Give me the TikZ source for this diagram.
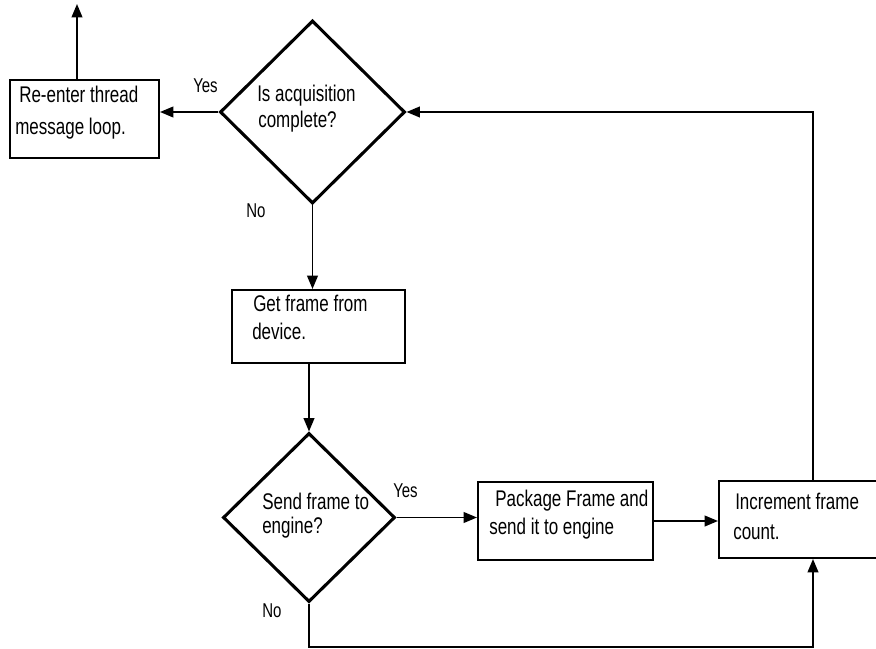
\documentclass[tikz,border=0pt]{standalone}
\usepackage{fontspec}
\setmainfont{Liberation Sans}[FakeStretch=0.75]
\usetikzlibrary{shapes.geometric,arrows.meta}
\begin{document}
\begin{tikzpicture}[x=0.75pt,y=-0.75pt,
 box/.style={draw, line width=1.5pt, rectangle, inner sep=0pt},
 dia/.style={draw, line width=2.3pt, diamond, inner sep=0pt},
 conn/.style={line width=1.4pt, -{Triangle[length=10pt,width=8pt]}},
 txt/.style={anchor=base west, inner sep=0pt, font=\fontsize{17}{20}\selectfont},
 lbl/.style={anchor=base west, inner sep=0pt, font=\fontsize{15}{18}\selectfont}]
\useasboundingbox (0,0) rectangle (876,649);
\fill[white] (0,0) rectangle (876,649);

% shapes
\node[box, minimum width=111.75pt, minimum height=58.5pt] (renter) at (84.5,119) {};
\node[box, minimum width=129.75pt, minimum height=54.75pt] (getf) at (318.5,326.5) {};
\node[box, minimum width=131.25pt, minimum height=58.5pt] (pkg) at (565.5,521) {};
\node[box, minimum width=120.75pt, minimum height=57.75pt] (inc) at (799.5,519.5) {};
\node[dia, minimum width=138.75pt, minimum height=137.25pt] (dia1) at (312.5,112) {};
\node[dia, minimum width=129pt, minimum height=126.75pt] (dia2) at (309,517.5) {};

% texts
\node[txt] (t1a) at (19,103) {Re-enter thread};
\node[txt] (t1b) at (15,135) {message loop.};
\node[txt] (t2a) at (257,102) {Is acquisition};
\node[txt] (t2b) at (258,128) {complete?};
\node[txt] (t3a) at (253,312) {Get frame from};
\node[txt] (t3b) at (252,340) {device.};
\node[txt] (t4a) at (262,509) {Send frame to};
\node[txt] (t4b) at (262,533) {engine?};
\node[txt] (t5a) at (495,507) {Package Frame and};
\node[txt] (t5b) at (489,534) {send it to engine};
\node[txt] (t6a) at (735,509) {Increment frame};
\node[txt] (t6b) at (733,539) {count.};

\node[lbl] (yes1) at (193,93) {Yes};
\node[lbl] (no1) at (246,218) {No};
\node[lbl] (yes2) at (393,498) {Yes};
\node[lbl] (no2) at (262,617) {No};

% helper coordinates
\coordinate (exit) at (77,4);
\coordinate (loopx) at (813,0);
\coordinate (nob) at (813,647);

% connectors
\draw[conn] (exit |- renter.north) -- (exit);
\draw[conn] (dia1.west) -- (dia1.west -| renter.east);
\draw[conn] (dia1.south) -- (dia1.south |- getf.north);
\draw[conn] (getf.south -| dia2.north) -- (dia2.north);
\draw[conn] (dia2.east) -- (dia2.east -| pkg.west);
\draw[conn] (pkg.east) -- (pkg.east -| inc.west);
\draw[conn] (dia2.south) |- (nob) -- (nob |- inc.south);
\draw[conn] (loopx |- inc.north) -- (loopx |- dia1.east) -- (dia1.east);
\end{tikzpicture}
\end{document}
